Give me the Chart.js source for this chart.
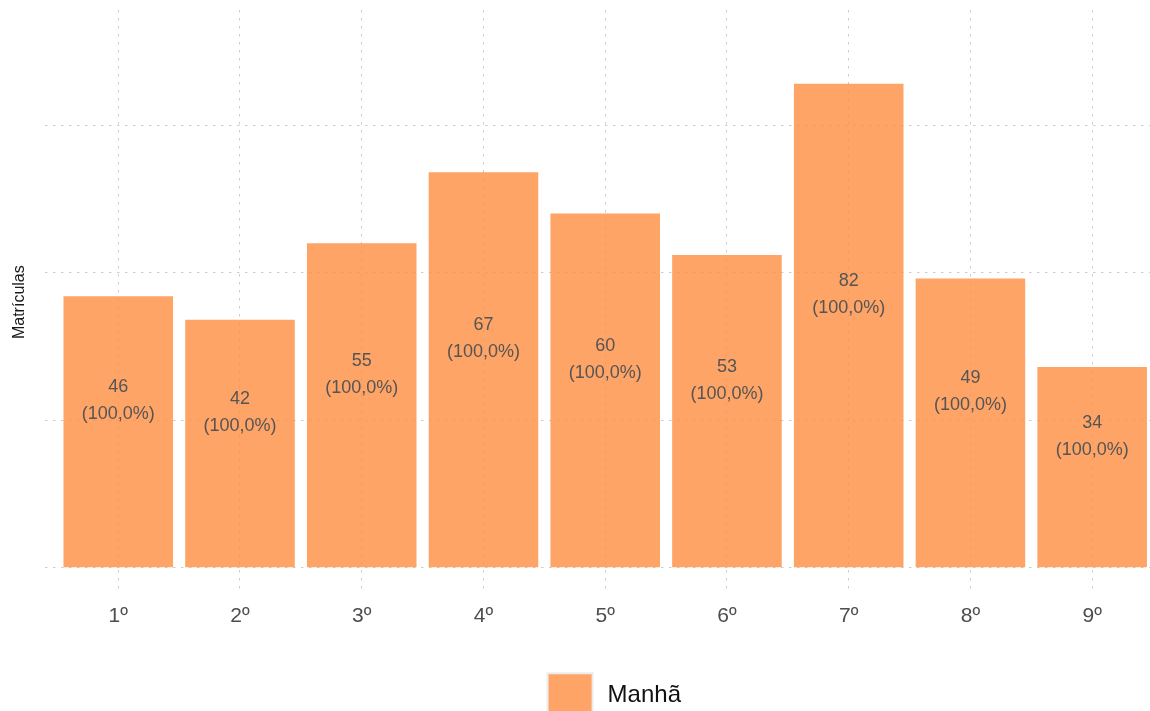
<!DOCTYPE html>
<html>
<head>
<meta charset="utf-8">
<script src="https://cdn.jsdelivr.net/npm/chart.js@4"></script>
<style>
  body { margin: 0; background: #fff; }
</style>
</head>
<body>
<canvas id="matriculasChart" width="1150" height="711"></canvas>
<script>
// Matrículas por ano (turno Manhã)
const categories = ['1º', '2º', '3º', '4º', '5º', '6º', '7º', '8º', '9º'];
const manha = [46, 42, 55, 67, 60, 53, 82, 49, 34];
const yTicks = [0, 25, 50, 75];
const seriesLabel = 'Manhã';

const barColor = 'rgba(254, 141, 64, 0.8)';
const legendColor = '#fea466';
const font = '"Liberation Sans", Arial, sans-serif';
const dash = [2.5, 5.5];

// value + share labels centred in each bar
const barLabels = {
    id: 'barLabels',
    afterDatasetsDraw(chart) {
        const ctx = chart.ctx;
        const meta = chart.getDatasetMeta(0);
        ctx.save();
        ctx.font = '18px ' + font;
        ctx.fillStyle = '#555555';
        ctx.textAlign = 'center';
        ctx.textBaseline = 'middle';
        meta.data.forEach((bar, i) => {
            const v = manha[i];
            const total = chart.data.datasets.reduce((s, d) => s + d.data[i].y, 0);
            const pct = (v / total * 100).toFixed(1).replace('.', ',') + '%';
            const mid = (bar.y + bar.base) / 2 - 31;
            ctx.fillText(String(v), bar.x, mid - 13.5);
            ctx.fillText('(' + pct + ')', bar.x, mid + 13.5);
        });
        ctx.restore();
    }
};

// legend drawn below the x axis
const bottomLegend = {
    id: 'bottomLegend',
    afterDraw(chart) {
        const ctx = chart.ctx;
        const area = chart.chartArea;
        const boxX = (area.left + area.right) / 2 - 50;
        const boxY = area.bottom + 79;
        ctx.save();
        ctx.fillStyle = legendColor;
        ctx.strokeStyle = '#ececec';
        ctx.lineWidth = 2;
        ctx.fillRect(boxX, boxY, 45, 45);
        ctx.strokeRect(boxX, boxY, 45, 45);
        ctx.font = '24px ' + font;
        ctx.fillStyle = '#111111';
        ctx.textAlign = 'left';
        ctx.textBaseline = 'middle';
        ctx.fillText(chart.data.datasets[0].label, boxX + 60, boxY + 22);
        ctx.restore();
    }
};

const ctx = document.getElementById('matriculasChart').getContext('2d');
new Chart(ctx, {
    type: 'bar',
    data: {
        datasets: [{
            label: seriesLabel,
            data: manha.map((v, i) => ({ x: i + 1, y: v })),
            backgroundColor: barColor,
            borderWidth: 0,
            barPercentage: 0.9,
            categoryPercentage: 1.0
        }]
    },
    options: {
        responsive: false,
        animation: false,
        layout: {
            padding: { top: 10, right: 0, bottom: 73.5, left: 0 }
        },
        plugins: {
            legend: { display: false },
            tooltip: { enabled: false }
        },
        scales: {
            x: {
                type: 'linear',
                offset: false,
                min: 0.4,
                max: 9.475,
                afterBuildTicks: axis => {
                    axis.ticks = categories.map((c, i) => ({ value: i + 1 }));
                },
                ticks: {
                    padding: 9,
                    color: '#4d4d4d',
                    font: { family: font, size: 21 },
                    callback: value => categories[Math.round(value) - 1]
                },
                grid: { offset: false, color: '#cccccc', lineWidth: 1, drawTicks: false, borderDash: dash },
                border: { display: false, dash: dash }
            },
            y: {
                min: -4.5,
                max: 94.5,
                afterBuildTicks: axis => {
                    axis.ticks = yTicks.map(v => ({ value: v }));
                },
                ticks: { display: false },
                grid: { color: '#cccccc', lineWidth: 1, drawTicks: false, borderDash: dash },
                border: { display: false, dash: dash },
                title: {
                    display: true,
                    text: 'Matrículas',
                    color: '#1a1a1a',
                    font: { family: font, size: 16 },
                    padding: { top: 10, bottom: 16 }
                }
            }
        }
    },
    plugins: [barLabels, bottomLegend]
});
</script>
</body>
</html>
